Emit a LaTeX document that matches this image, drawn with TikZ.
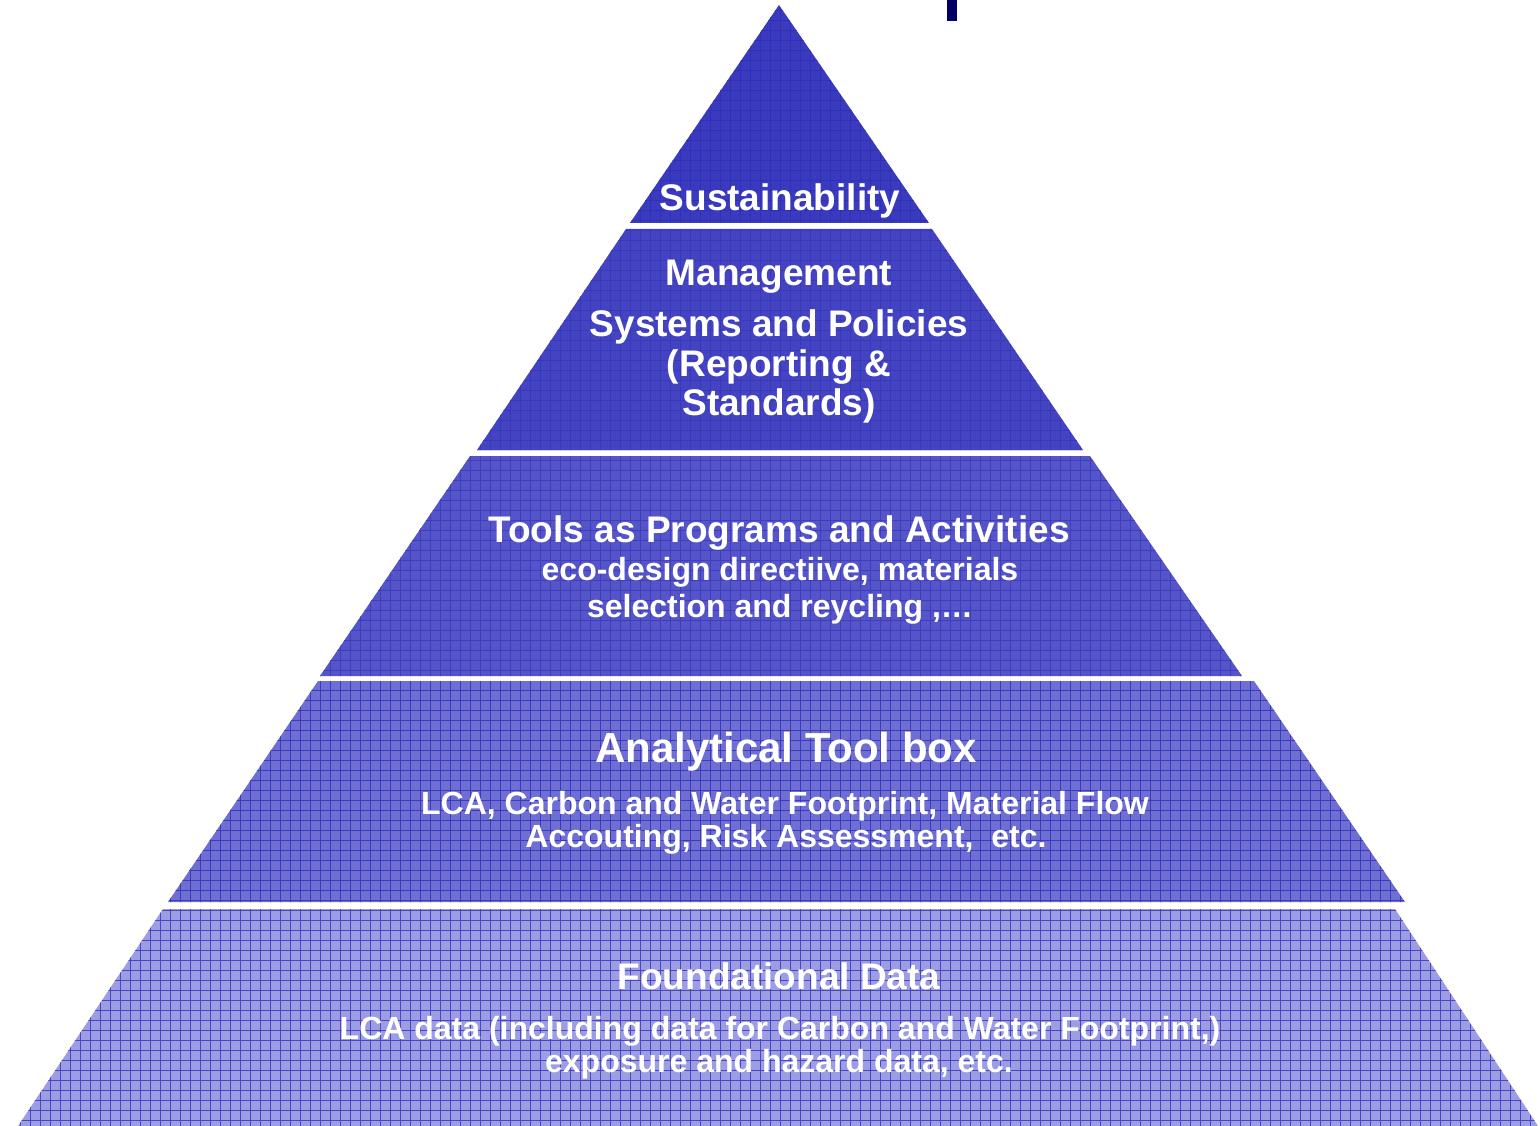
\documentclass[tikz,border=0pt]{standalone}
\usepackage{fontspec}
\setmainfont{Liberation Sans}
\begin{document}
\begin{tikzpicture}[x=1pt,y=-1pt,
  lbl/.style={anchor=base,inner sep=0pt,text=white,font=\bfseries},
  big/.style={lbl,font=\bfseries\fontsize{37}{44}\selectfont},
  huge/.style={lbl,font=\bfseries\fontsize{42}{50}\selectfont},
  small/.style={lbl,font=\bfseries\fontsize{32}{38}\selectfont}]
\definecolor{cA}{HTML}{3A3ABF}
\definecolor{cB}{HTML}{4444C3}
\definecolor{cC}{HTML}{5555C9}
\definecolor{cD}{HTML}{6E6ED3}
\definecolor{cE}{HTML}{9D9DE3}
\definecolor{gA}{HTML}{2A2AB0}
\definecolor{gB}{HTML}{3030B4}
\definecolor{gC}{HTML}{3434B8}
\definecolor{gD}{HTML}{3A3ABE}
\definecolor{gE}{HTML}{4646C6}
\definecolor{navy}{HTML}{000066}
\useasboundingbox (0,0) rectangle (1540,1126);
\fill[white] (0,0) rectangle (1540,1126);
% dark mark at top
\fill[navy] (947,0) rectangle (957,21);
% layers
\newcommand{\layergrid}[2]{%
  \begin{scope}
    \clip #1;
    \fill[#2] (0,0) rectangle (1540,1126);
  \end{scope}}
\newcommand{\gridlines}[2]{%
  \begin{scope}
    \clip #1;
    \foreach \i in {0,10,...,1540} \draw[#2,line width=0.9pt] (\i,0) -- (\i,1126);
    \foreach \j in {0,10,...,1130} \draw[#2,line width=0.9pt] (0,\j) -- (1540,\j);
  \end{scope}}
% L1
\fill[cA] (779,5) -- (929,223) -- (630,223) -- cycle;
\gridlines{(779,5) -- (929,223) -- (630,223) -- cycle}{gA!60!cA}
% L2
\fill[cB] (626,229) -- (932,229) -- (1083,450) -- (477,450) -- cycle;
\gridlines{(626,229) -- (932,229) -- (1083,450) -- (477,450) -- cycle}{gB!60!cB}
% L3
\fill[cC] (470,456) -- (1090,456) -- (1242,676) -- (320,676) -- cycle;
\gridlines{(470,456) -- (1090,456) -- (1242,676) -- (320,676) -- cycle}{gC!70!cC}
% L4
\fill[cD] (318,681) -- (1254,681) -- (1405,902) -- (168,902) -- cycle;
\gridlines{(318,681) -- (1254,681) -- (1405,902) -- (168,902) -- cycle}{gD}
% L5
\fill[cE] (163,909) -- (1395,909) -- (1538,1126) -- (18,1126) -- cycle;
\gridlines{(163,909) -- (1395,909) -- (1538,1126) -- (18,1126) -- cycle}{gE}
% texts
\node[big] (t1) at (780,211) {Sustainability};
\node[big] (t2a) at (779,285) {Management};
\node[big] (t2b) at (779,336) {Systems and Policies};
\node[big] (t2c) at (779,376) {(Reporting \&};
\node[big] (t2d) at (779,415) {Standards)};
\node[big] (t3a) at (779,542) {Tools as Programs and Activities};
\node[small] (t3b) at (780,580) {eco-design directiive, materials};
\node[small] (t3c) at (780,617) {selection and reycling ,…};
\node[huge] (t4a) at (786,762) {Analytical Tool box};
\node[small] (t4b) at (785,814) {LCA, Carbon and Water Footprint, Material Flow};
\node[small] (t4c) at (786,847) {Accouting, Risk Assessment,\ \ etc.};
\node[big] (t5a) at (779,989) {Foundational Data};
\node[small] (t5b) at (780,1039) {LCA data (including data for Carbon and Water Footprint,)};
\node[small] (t5c) at (779,1072) {exposure and hazard data, etc.};
\end{tikzpicture}
\end{document}
